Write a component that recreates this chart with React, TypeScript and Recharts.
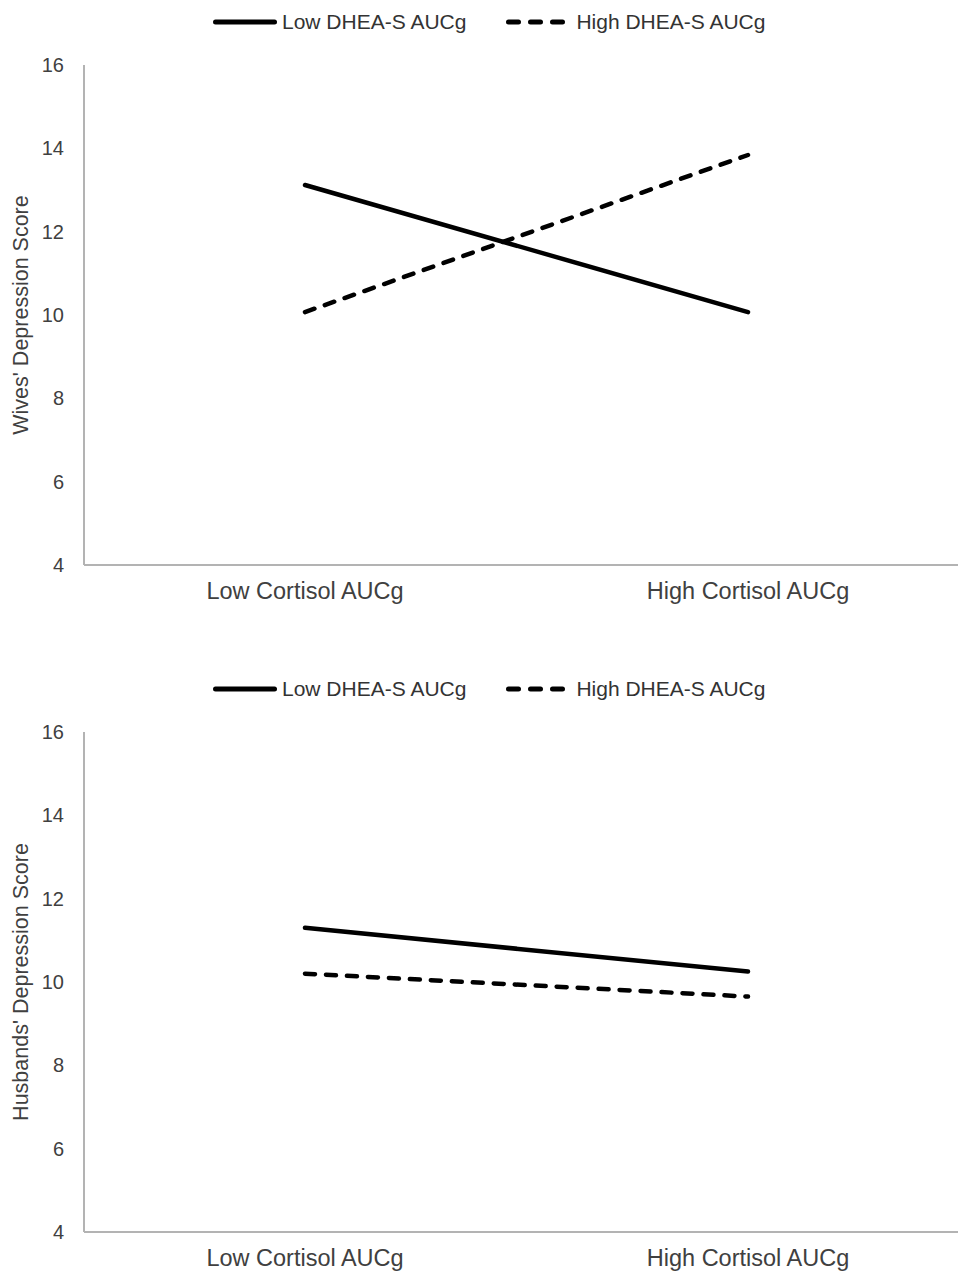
import React from 'react';
import { LineChart, Line, XAxis, YAxis, Legend, Label } from 'recharts';

const categories = ['Low Cortisol AUCg', 'High Cortisol AUCg'];
const yTicks = [4, 6, 8, 10, 12, 14, 16];
const seriesNames = ['Low DHEA-S AUCg', 'High DHEA-S AUCg'];

const wivesLowDhea = [13.12, 10.07];
const wivesHighDhea = [10.07, 13.84];
const husbandsLowDhea = [11.3, 10.25];
const husbandsHighDhea = [10.2, 9.65];

const FONT = '"Liberation Sans", Arial, Helvetica, sans-serif';

const buildData = (low: number[], high: number[]) =>
  categories.map((c, i) => ({ name: c, low: low[i], high: high[i] }));

const LegendContent = () => (
  <div
    style={{
      height: 57,
      display: 'flex',
      justifyContent: 'flex-start',
      alignItems: 'flex-start',
      paddingLeft: 205,
      fontFamily: FONT,
      fontSize: 21,
      color: '#333',
      lineHeight: '28px',
      boxSizing: 'border-box',
    }}
  >
    <div style={{ display: 'flex', alignItems: 'center', marginRight: 40 }}>
      <svg width={64} height={8} style={{ marginRight: 5 }}>
        <line x1={2.5} y1={4} x2={61.5} y2={4} stroke="#000" strokeWidth={5} strokeLinecap="round" />
      </svg>
      <span>{seriesNames[0]}</span>
    </div>
    <div style={{ display: 'flex', alignItems: 'center' }}>
      <svg width={62} height={8} style={{ marginRight: 8 }}>
        <line x1={2.5} y1={4} x2={59.5} y2={4} stroke="#000" strokeWidth={5} strokeLinecap="round" strokeDasharray="10 12" />
      </svg>
      <span>{seriesNames[1]}</span>
    </div>
  </div>
);

const Panel = ({
  low,
  high,
  yLabel,
  height,
  xAxisHeight,
}: {
  low: number[];
  high: number[];
  yLabel: string;
  height: number;
  xAxisHeight: number;
}) => (
  <LineChart
    width={964}
    height={height}
    data={buildData(low, high)}
    margin={{ top: 0, right: 0, bottom: 0, left: 0 }}
    style={{ fontFamily: FONT }}
  >
    <Legend verticalAlign="top" align="left" content={<LegendContent />} wrapperStyle={{ top: 0, left: 0 }} />
    <XAxis
      dataKey="name"
      height={xAxisHeight}
      padding={{ left: 221, right: 224 }}
      axisLine={{ stroke: '#b3b3b3', strokeWidth: 2 }}
      tickLine={false}
      tickSize={0}
      tickMargin={17}
      tick={{ fill: '#404040', fontSize: 23.5, fontFamily: FONT }}
      interval={0}
    />
    <YAxis
      width={76}
      domain={[4, 16]}
      ticks={yTicks}
      type="number"
      allowDataOverflow
      axisLine={{ stroke: '#b3b3b3', strokeWidth: 2 }}
      tickLine={false}
      tickSize={0}
      tickMargin={20}
      tick={{ fill: '#404040', fontSize: 20, fontFamily: FONT }}
    >
      <Label
        value={yLabel}
        angle={-90}
        position="center"
        dx={-26}
        style={{ fill: '#404040', fontSize: 21.5, fontFamily: FONT }}
      />
    </YAxis>
    <Line
      dataKey="low"
      name={seriesNames[0]}
      stroke="#000"
      strokeWidth={4.5}
      strokeLinecap="round"
      dot={false}
      activeDot={false}
      isAnimationActive={false}
    />
    <Line
      dataKey="high"
      name={seriesNames[1]}
      stroke="#000"
      strokeWidth={4.5}
      strokeLinecap="round"
      strokeDasharray="10 11"
      dot={false}
      activeDot={false}
      isAnimationActive={false}
    />
  </LineChart>
);

export default function App() {
  return (
    <div style={{ position: 'fixed', top: 8, left: 8, width: 950, height: 1272, overflow: 'hidden', background: '#fff' }}>
      <Panel low={wivesLowDhea} high={wivesHighDhea} yLabel="Wives' Depression Score" height={667} xAxisHeight={110} />
      <Panel low={husbandsLowDhea} high={husbandsHighDhea} yLabel="Husbands' Depression Score" height={597} xAxisHeight={40} />
    </div>
  );
}
